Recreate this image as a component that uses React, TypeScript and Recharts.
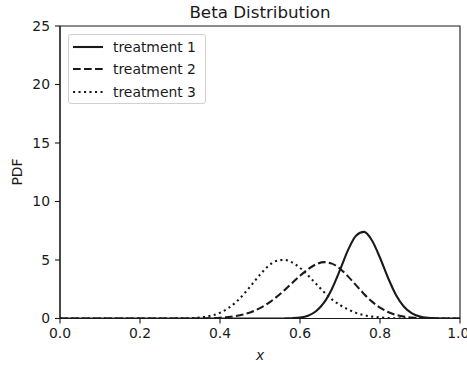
import { LineChart, Line, XAxis, YAxis, Legend, ReferenceArea } from "recharts";

// x positions the curves were read at
const X_VALUES = [
  0, 0.1, 0.2, 0.3, 0.32, 0.34, 0.36, 0.38, 0.4, 0.42, 0.44, 0.46, 0.48, 0.5,
  0.52, 0.54, 0.56, 0.58, 0.6, 0.62, 0.64, 0.66, 0.68, 0.7, 0.72, 0.74, 0.76,
  0.78, 0.8, 0.82, 0.84, 0.86, 0.88, 0.9, 0.92, 0.94, 0.96, 1.0,
];

const TREATMENT_1 = [
  0, 0, 0, 0, 0, 0, 0, 0, 0, 0, 0, 0, 0, 0, 0, 0, 0.006, 0.024, 0.08, 0.24,
  0.62, 1.35, 2.55, 4.15, 5.84, 7.08, 7.4, 6.67, 5.19, 3.48, 2.01, 1.0, 0.43,
  0.16, 0.05, 0.014, 0.003, 0,
];

const TREATMENT_2 = [
  0, 0, 0, 0.001, 0.003, 0.006, 0.015, 0.031, 0.063, 0.12, 0.21, 0.36, 0.58,
  0.89, 1.29, 1.8, 2.38, 3.02, 3.65, 4.21, 4.63, 4.82, 4.69, 4.25, 3.6, 2.85,
  2.1, 1.44, 0.93, 0.56, 0.31, 0.16, 0.08, 0.036, 0.015, 0.005, 0.002, 0,
];

const TREATMENT_3 = [
  0, 0, 0, 0.009, 0.024, 0.058, 0.13, 0.26, 0.49, 0.87, 1.4, 2.1, 2.92, 3.75,
  4.46, 4.91, 5.01, 4.8, 4.33, 3.69, 2.97, 2.26, 1.63, 1.15, 0.78, 0.48, 0.29,
  0.16, 0.09, 0.045, 0.02, 0.008, 0.003, 0.001, 0, 0, 0, 0,
];

const SERIES_NAMES = ["treatment 1", "treatment 2", "treatment 3"];
const X_TICKS = [0, 0.2, 0.4, 0.6, 0.8, 1.0];
const Y_TICKS = [0, 5, 10, 15, 20, 25];

const DASHES = ["", "7.7 3.3", "2.1 3.4"];
const FONT = "'DejaVu Sans', sans-serif";
const INK = "#1a1a1a";

const data = X_VALUES.map((x, i) => ({
  x,
  t1: TREATMENT_1[i],
  t2: TREATMENT_2[i],
  t3: TREATMENT_3[i],
}));

function LegendBox() {
  return (
    <div
      style={{
        width: 136,
        height: 67,
        border: "1px solid #d0d0d0",
        borderRadius: 3,
        background: "#fff",
        paddingTop: 1,
        fontFamily: FONT,
        fontSize: 13.9,
        color: INK,
      }}
    >
      {SERIES_NAMES.map((name, i) => (
        <div
          key={name}
          style={{ display: "flex", alignItems: "center", height: 22.3 }}
        >
          <svg width={30} height={4} style={{ marginLeft: 4 }}>
            <line
              x1={0}
              y1={2}
              x2={30}
              y2={2}
              stroke={INK}
              strokeWidth={2.1}
              strokeDasharray={DASHES[i] || undefined}
            />
          </svg>
          <span style={{ marginLeft: 10 }}>{name}</span>
        </div>
      ))}
    </div>
  );
}

const tickStyle = { fontSize: 13.9, fontFamily: FONT, fill: INK };

export default function App() {
  return (
    <div style={{ position: "absolute", left: 0, top: 0 }}>
      <LineChart
        width={467}
        height={366}
        data={data}
        margin={{ top: 26, right: 7, bottom: 0, left: 0 }}
      >
        <XAxis
          dataKey="x"
          type="number"
          domain={[0, 1]}
          ticks={X_TICKS}
          tickFormatter={(v: number) => v.toFixed(1)}
          height={47.5}
          tickSize={5}
          tickMargin={5}
          tick={tickStyle}
          axisLine={{ stroke: INK, strokeWidth: 1.1 }}
          tickLine={{ stroke: INK, strokeWidth: 1.1 }}
          allowDataOverflow
        />
        <YAxis
          domain={[0, 25]}
          ticks={Y_TICKS}
          width={60}
          tickSize={5}
          tickMargin={5}
          tick={tickStyle}
          axisLine={{ stroke: INK, strokeWidth: 1.1 }}
          tickLine={{ stroke: INK, strokeWidth: 1.1 }}
          allowDataOverflow
        />
        {/* matplotlib-style frame around the plot */}
        <ReferenceArea
          x1={0}
          x2={1}
          y1={0}
          y2={25}
          fill="none"
          stroke={INK}
          strokeWidth={1.1}
          ifOverflow="visible"
        />
        <Legend
          layout="vertical"
          align="center"
          verticalAlign="middle"
          content={() => <LegendBox />}
          wrapperStyle={{ left: 68, top: 34, width: "auto", height: "auto" }}
        />
        {["t1", "t2", "t3"].map((key, i) => (
          <Line
            key={key}
            dataKey={key}
            name={SERIES_NAMES[i]}
            type="monotone"
            stroke={INK}
            strokeWidth={2.1}
            strokeDasharray={DASHES[i] || undefined}
            dot={false}
            activeDot={false}
            isAnimationActive={false}
          />
        ))}
        <text
          x={260}
          y={17.5}
          textAnchor="middle"
          fontFamily={FONT}
          fontSize={16.7}
          fill={INK}
        >
          Beta Distribution
        </text>
        <text
          x={260}
          y={360}
          textAnchor="middle"
          fontFamily={FONT}
          fontStyle="italic"
          fontSize={13.9}
          fill={INK}
        >
          x
        </text>
        <text
          x={22}
          y={172}
          transform="rotate(-90 22 172)"
          textAnchor="middle"
          fontFamily={FONT}
          fontSize={13.9}
          fill={INK}
        >
          PDF
        </text>
      </LineChart>
    </div>
  );
}
